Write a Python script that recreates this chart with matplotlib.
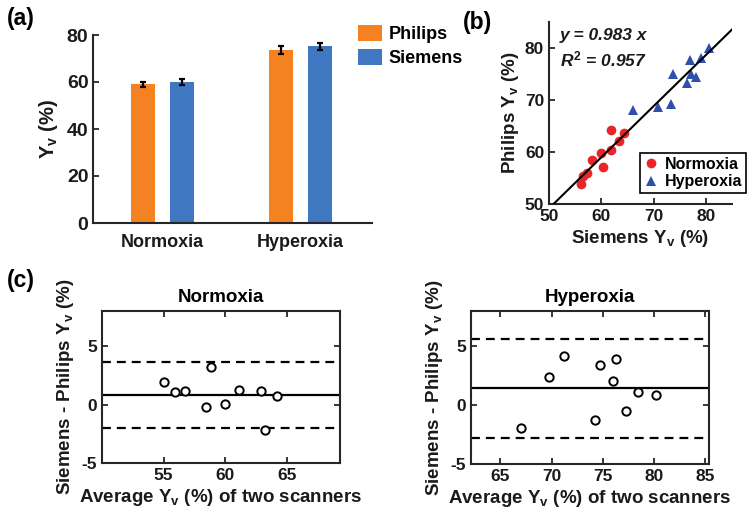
import numpy as np
import matplotlib
matplotlib.use('Agg')
import matplotlib.pyplot as plt
from matplotlib.font_manager import FontProperties

# Plot constants
FIG_W, FIG_H = 754, 529
DPI = 100
PHILIPS_COLOR = '#F58220'
SIEMENS_COLOR = '#3F78C0'
NORM_COLOR = '#E8262A'
HYPER_COLOR = '#2F4FAA'
AX_COLOR = '#262626'
TEXT_COLOR = '#1a1a1a'
TICK_SIZE = 12.5
LABEL_SIZE = 13.5

plt.rcParams['font.family'] = ['Liberation Sans', 'DejaVu Sans']
plt.rcParams['font.weight'] = 'bold'
plt.rcParams['axes.labelweight'] = 'bold'
plt.rcParams['axes.titleweight'] = 'bold'
plt.rcParams['mathtext.fontset'] = 'custom'
plt.rcParams['mathtext.rm'] = 'Liberation Sans:bold'
plt.rcParams['mathtext.bf'] = 'Liberation Sans:bold'
plt.rcParams['mathtext.it'] = 'Liberation Sans:bold:italic'

# (a) group means
group_names = ['Normoxia', 'Hyperoxia']
philips_mean = [59.0, 73.6]
philips_err = [1.2, 1.6]
siemens_mean = [60.0, 75.2]
siemens_err = [1.1, 1.6]

# (b) Philips vs Siemens
norm_siemens = [56.1, 56.5, 57.3, 58.2, 59.9, 60.3, 61.9, 61.8, 63.4, 64.4]
norm_philips = [53.9, 55.4, 55.9, 58.4, 59.8, 57.1, 64.2, 60.3, 62.1, 63.7]
hyper_siemens = [66.0, 70.8, 73.3, 73.7, 76.3, 77.0, 77.1, 78.2, 79.1, 80.6]
hyper_philips = [68.1, 68.6, 69.2, 75.0, 73.2, 77.6, 75.0, 74.5, 78.1, 80.0]
fit_slope = 0.983
fit_r2 = 0.957

# (c) Bland-Altman
ba_norm_avg = [55.0, 55.95, 56.7, 58.4, 58.8, 60.0, 61.1, 62.9, 63.2, 64.2]
ba_norm_diff = [1.92, 1.07, 1.19, -0.23, 3.22, 0.05, 1.27, 1.13, -2.18, 0.71]
ba_norm_mean = 0.80
ba_norm_loa = [-1.98, 3.59]
ba_hyper_avg = [66.98, 69.75, 71.2, 74.27, 74.72, 76.0, 76.25, 77.26, 78.46, 80.2]
ba_hyper_diff = [-1.94, 2.4, 4.2, -1.23, 3.4, 2.09, 3.94, -0.46, 1.14, 0.83]
ba_hyper_mean = 1.43
ba_hyper_loa = [-2.77, 5.63]


def px_axes(fig, left, top, right, bottom):
    return fig.add_axes([left / FIG_W, 1 - bottom / FIG_H,
                         (right - left) / FIG_W, (bottom - top) / FIG_H])


def style_axes(ax, box=False):
    for side in ['left', 'bottom', 'top', 'right']:
        ax.spines[side].set_linewidth(1.5)
        ax.spines[side].set_color(AX_COLOR)
    if not box:
        ax.spines['top'].set_visible(False)
        ax.spines['right'].set_visible(False)
    ax.tick_params(direction='in', length=4, width=1.3, color=AX_COLOR,
                   labelcolor=TEXT_COLOR, top=box, right=box)


def set_ticks(ax, xticks, yticks, xlabels=None, xsize=TICK_SIZE, ysize=TICK_SIZE):
    # explicit bold tick labels
    if xlabels is None:
        xlabels = [str(t) for t in xticks]
    ax.set_xticks(xticks, labels=xlabels,
                  fontproperties=FontProperties(family='Liberation Sans', weight='bold', size=xsize))
    ax.set_yticks(yticks, labels=[str(t) for t in yticks],
                  fontproperties=FontProperties(family='Liberation Sans', weight='bold', size=ysize))


fig = plt.figure(figsize=(FIG_W / DPI, FIG_H / DPI), dpi=DPI)

# ---- (a) bar chart
ax_a = px_axes(fig, 93.3, 35, 372, 223)
x = np.arange(1, len(group_names) + 1)
bar_w = 0.174
err_kw = dict(ecolor='black', elinewidth=1.6, capsize=2.2, capthick=1.6)
ax_a.bar(x - 0.143, philips_mean, bar_w, yerr=philips_err, color=PHILIPS_COLOR,
         label='Philips', error_kw=err_kw)
ax_a.bar(x + 0.143, siemens_mean, bar_w, yerr=siemens_err, color=SIEMENS_COLOR,
         label='Siemens', error_kw=err_kw)
ax_a.set_xlim(0.5, 2.52)
ax_a.set_ylim(0, 80)
style_axes(ax_a)
set_ticks(ax_a, x, [0, 20, 40, 60, 80], xlabels=group_names, xsize=13, ysize=14)
ax_a.tick_params(axis='x', length=0, pad=8)
ax_a.set_ylabel('Y$_\\mathrm{v}$ (%)', fontsize=14.5, color=TEXT_COLOR, labelpad=5)
fig.legend(loc='upper left', bbox_to_anchor=(358 / FIG_W, 1 - 25 / FIG_H),
           frameon=False, fontsize=13, handlelength=1.33, handleheight=1.0,
           handletextpad=0.35, labelspacing=0.33, borderpad=0, borderaxespad=0,
           handles=ax_a.get_legend_handles_labels()[0])

# ---- (b) scatter
ax_b = px_axes(fig, 549, 22, 732, 204)
fit_x = np.array([50, 85])
ax_b.plot(fit_x, fit_slope * fit_x, color='black', lw=1.5, zorder=3)
ax_b.plot(norm_siemens, norm_philips, 'o', color=NORM_COLOR, ms=7, mew=0,
          label='Normoxia', zorder=2)
ax_b.plot(hyper_siemens, hyper_philips, '^', color=HYPER_COLOR, ms=7.5, mew=0,
          label='Hyperoxia', zorder=2)
ax_b.set_xlim(50, 85)
ax_b.set_ylim(50, 85)
style_axes(ax_b)
set_ticks(ax_b, [50, 60, 70, 80], [50, 60, 70, 80])
ax_b.set_xlabel('Siemens Y$_\\mathrm{v}$ (%)', fontsize=LABEL_SIZE, color=TEXT_COLOR, labelpad=3)
ax_b.set_ylabel('Philips Y$_\\mathrm{v}$ (%)', fontsize=LABEL_SIZE, color=TEXT_COLOR, labelpad=3)
ax_b.text(0.06, 0.90, f'y = {fit_slope} x', transform=ax_b.transAxes,
          fontsize=12.5, fontstyle='italic', color=TEXT_COLOR)
ax_b.text(0.06, 0.755, f'$\\mathit{{R^2}}$ = {fit_r2}', transform=ax_b.transAxes,
          fontsize=12.5, fontstyle='italic', color=TEXT_COLOR)
leg_b = ax_b.legend(loc='upper left', bbox_to_anchor=(640 / FIG_W, 1 - 153 / FIG_H),
                    bbox_transform=fig.transFigure, fontsize=11.5, fancybox=False,
                    edgecolor='black', framealpha=1, handlelength=0.9,
                    handletextpad=0.4, borderpad=0.25, labelspacing=0.15,
                    borderaxespad=0)
leg_b.get_frame().set_linewidth(1.2)


# ---- (c) Bland-Altman
def bland_altman(ax, avg, diff, mean_diff, loa, title, xlim, xticks):
    ax.axhline(mean_diff, color='black', lw=1.6)
    for v in loa:
        ax.axhline(v, color='black', lw=1.6, dashes=(4.0, 2.7))
    ax.plot(avg, diff, 'o', ms=6, mfc='white', mec='black', mew=1.4, zorder=3)
    ax.set_xlim(*xlim)
    ax.set_ylim(-5, 8)
    style_axes(ax, box=True)
    set_ticks(ax, xticks, [-5, 0, 5])
    ax.set_title(title, fontsize=13.5, fontweight='bold', pad=6)
    ax.set_xlabel('Average Y$_\\mathrm{v}$ (%) of two scanners', fontsize=LABEL_SIZE,
                  color=TEXT_COLOR, labelpad=3)
    ax.set_ylabel('Siemens - Philips Y$_\\mathrm{v}$ (%)', fontsize=LABEL_SIZE,
                  color=TEXT_COLOR, labelpad=4)


ax_c1 = px_axes(fig, 102, 310.7, 340, 463.3)
bland_altman(ax_c1, ba_norm_avg, ba_norm_diff, ba_norm_mean, ba_norm_loa,
             'Normoxia', (50, 69.3), [55, 60, 65])
ax_c2 = px_axes(fig, 470.7, 310.7, 709.3, 464.3)
bland_altman(ax_c2, ba_hyper_avg, ba_hyper_diff, ba_hyper_mean, ba_hyper_loa,
             'Hyperoxia', (62.1, 85.4), [65, 70, 75, 80, 85])

# Panel letters
fig.text(7 / FIG_W, 1 - 19 / FIG_H, '(a)', fontsize=16.5, va='center')
fig.text(463 / FIG_W, 1 - 22 / FIG_H, '(b)', fontsize=16.5, va='center')
fig.text(7 / FIG_W, 1 - 281 / FIG_H, '(c)', fontsize=16.5, va='center')

fig.savefig('out.png', dpi=DPI)
